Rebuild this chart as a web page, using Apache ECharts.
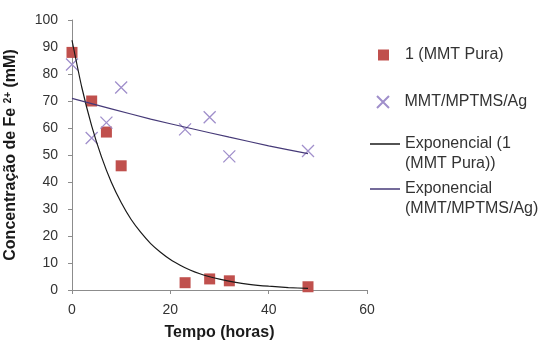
<!DOCTYPE html>
<html>
<head>
<meta charset="utf-8">
<script src="https://cdn.jsdelivr.net/npm/echarts@6/dist/echarts.min.js"></script>
<style>
  html, body { margin: 0; padding: 0; background: #fff; }
  #chart { width: 538px; height: 343px; }
</style>
</head>
<body>
<div id="chart"></div>
<script>
// measured points
const tempo = [0, 4, 7, 10, 23, 28, 32, 48];
const pura = [88, 70, 58.5, 46, 2.7, 4.1, 3.4, 1.2];
const mptms = [83.5, 56.3, 62, 75, 59.5, 64, 49.5, 51.5];

// trendlines
const trendPuraX = [0, 2, 4, 6, 8, 10, 12, 14, 16, 18, 20, 22, 24, 26, 28, 30, 33, 36, 40, 44, 48];
const trendPuraY = [92.5, 75, 60.8, 49.3, 39.9, 32.4, 26.2, 21.3, 17.2, 14, 11.3, 9.2, 7.4, 6, 4.9, 4, 2.9, 2.1, 1.4, 0.9, 0.6];
const trendAgX = [0, 8, 16, 24, 32, 40, 48];
const trendAgY = [71, 67.1, 63.3, 59.9, 56.6, 53.4, 50.5];

const xTicks = [0, 20, 40, 60];
const yTicks = [0, 10, 20, 30, 40, 50, 60, 70, 80, 90, 100];

const names = ['1 (MMT Pura)', 'MMT/MPTMS/Ag', 'Exponencial (1 (MMT Pura))', 'Exponencial (MMT/MPTMS/Ag)'];
const legendText = {
  'Exponencial (1 (MMT Pura))': '\nExponencial (1\n(MMT Pura))',
  'Exponencial (MMT/MPTMS/Ag)': '\nExponencial\n(MMT/MPTMS/Ag)'
};

const font = '"Liberation Sans", Arial, sans-serif';
const pair = (xs, ys) => xs.map((x, i) => [x, ys[i]]);

const chart = echarts.init(document.getElementById('chart'), null, { renderer: 'canvas' });

function legendAt(name, top, left, itemWidth, itemHeight, extra) {
  return Object.assign({
    data: [name],
    orient: 'vertical',
    left: left,
    top: top,
    padding: 0,
    itemWidth: itemWidth,
    itemHeight: itemHeight,
    selectedMode: false,
    formatter: (n) => legendText[n] || n,
    textStyle: { fontFamily: font, fontSize: 16, color: '#333', lineHeight: 20 }
  }, extra || {});
}

chart.setOption({
  animation: false,
  grid: { left: 72, right: 171, top: 20, bottom: 53, outerBoundsMode: 'none', containLabel: false },
  legend: [
    legendAt(names[0], 45, 378, 33, 11, { icon: 'path://M0,0H10V10H0Z' }),
    legendAt(names[1], 92, 376, 33, 12),
    legendAt(names[2], 114, 370, 30, 1.5, { icon: 'rect', symbolKeepAspect: false }),
    legendAt(names[3], 159, 370, 30, 1.5, { icon: 'rect', symbolKeepAspect: false })
  ],
  xAxis: {
    type: 'value',
    min: xTicks[0],
    max: xTicks[xTicks.length - 1],
    interval: 20,
    name: 'Tempo (horas)',
    nameLocation: 'middle',
    nameGap: 35,
    nameTextStyle: { fontFamily: font, fontSize: 16, fontWeight: 'bold', color: '#1a1a1a' },
    axisLine: { lineStyle: { color: '#8c8c8c' } },
    axisTick: { length: 4, lineStyle: { color: '#8c8c8c' } },
    axisLabel: { fontFamily: font, fontSize: 14, color: '#333', margin: 13 },
    splitLine: { show: false }
  },
  yAxis: {
    type: 'value',
    min: yTicks[0],
    max: yTicks[yTicks.length - 1],
    interval: 10,
    name: '{t|Concentração de Fe }{s|2+}{t| (mM)}',
    nameLocation: 'middle',
    nameGap: 53,
    nameRotate: 90,
    nameTextStyle: {
      rich: {
        t: { fontFamily: font, fontSize: 16, fontWeight: 'bold', color: '#1a1a1a' },
        s: { fontFamily: font, fontSize: 10, fontWeight: 'bold', color: '#1a1a1a', verticalAlign: 'top', padding: [0, 0, 6, 0] }
      }
    },
    axisLine: { show: true, lineStyle: { color: '#8c8c8c' } },
    axisTick: { show: true, length: 4, lineStyle: { color: '#8c8c8c' } },
    axisLabel: { fontFamily: font, fontSize: 14, color: '#333', margin: 14 },
    splitLine: { show: false }
  },
  series: [
    {
      name: names[0],
      type: 'scatter',
      symbol: 'rect',
      symbolSize: 11,
      itemStyle: { color: '#c0504d', opacity: 1 },
      data: pair(tempo, pura)
    },
    {
      name: names[1],
      type: 'scatter',
      symbol: 'path://M0,0L10,10M10,0L0,10',
      symbolSize: 12,
      itemStyle: { color: 'transparent', borderColor: '#a08fcb', borderWidth: 1.3, opacity: 1 },
      data: pair(tempo, mptms)
    },
    {
      name: names[2],
      type: 'line',
      smooth: 0.2,
      showSymbol: false,
      symbol: 'none',
      lineStyle: { color: '#1a1a1a', width: 1.2 },
      itemStyle: { color: '#1a1a1a' },
      data: pair(trendPuraX, trendPuraY)
    },
    {
      name: names[3],
      type: 'line',
      smooth: 0.2,
      showSymbol: false,
      symbol: 'none',
      lineStyle: { color: '#463a78', width: 1.2 },
      itemStyle: { color: '#463a78' },
      data: pair(trendAgX, trendAgY)
    }
  ]
});
</script>
</body>
</html>
